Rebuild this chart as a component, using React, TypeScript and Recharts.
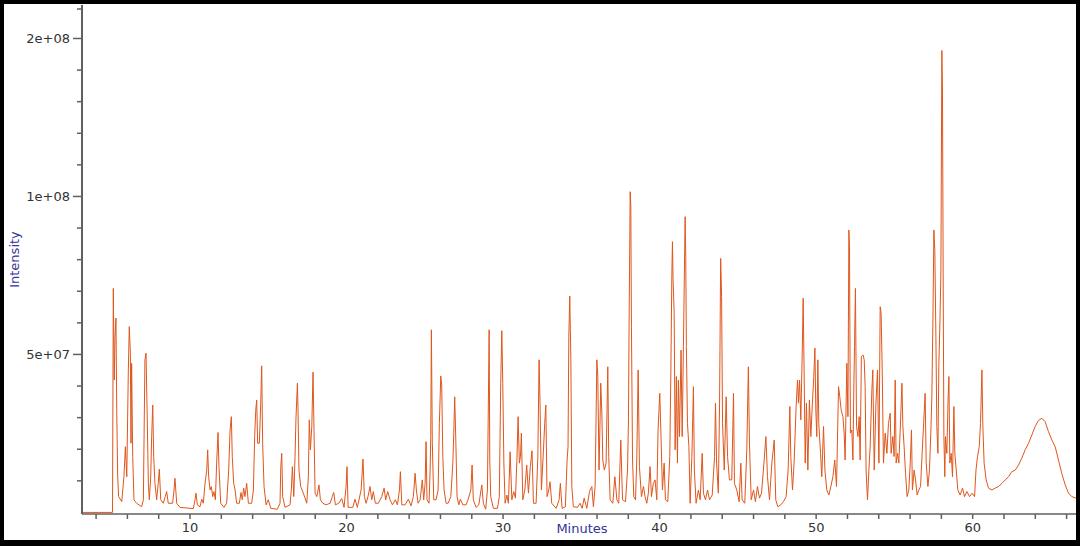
import { Label, Line, LineChart, XAxis, YAxis } from "recharts";

// retention time (min), intensity (x 1e6 counts)
const early: [number, number][] = [
  [3.1, 0], [5.05, 0], [5.1, 70.9], [5.16, 41.9], [5.21, 55.6], [5.27, 61.5], [5.32, 31.9],
  [5.38, 11.3], [5.44, 5.0], [5.64, 3.4], [5.78, 11.3], [5.87, 20.8], [5.96, 11.3], [6.06, 45.1],
  [6.12, 58.8], [6.19, 50.4], [6.23, 21.9], [6.27, 47.2], [6.34, 17.7], [6.42, 4.0], [6.59, 2.9],
  [6.91, 1.8], [7.02, 4.0], [7.12, 48.3], [7.19, 50.4], [7.25, 34.6], [7.34, 9.2], [7.4, 4.0],
  [7.49, 11.3], [7.55, 24.0], [7.62, 34.0], [7.68, 17.7], [7.76, 9.2], [7.87, 4.0], [7.97, 9.2],
  [8.04, 13.7], [8.13, 4.0], [8.29, 2.9], [8.42, 5.0], [8.51, 6.6], [8.61, 2.9], [8.89, 2.9],
  [8.98, 7.1], [9.04, 10.8], [9.15, 2.9], [9.36, 1.6],
];

const from10: [number, number][] = [
  [10.21, 1.2], [10.32, 4.0], [10.38, 6.1], [10.47, 2.4], [10.64, 1.8], [10.75, 4.2], [10.85, 2.9],
  [10.96, 9.2], [11.07, 13.4], [11.13, 19.8], [11.19, 11.3], [11.28, 7.1], [11.36, 8.2], [11.45, 5.0],
  [11.53, 6.6], [11.62, 4.0], [11.71, 16.6], [11.79, 25.3], [11.85, 14.5], [11.96, 2.9], [12.17, 1.6],
  [12.34, 2.9], [12.47, 13.4], [12.56, 26.1], [12.64, 30.3], [12.7, 17.7], [12.79, 9.2], [12.88, 7.1],
  [12.98, 2.9], [13.15, 2.9], [13.26, 6.3], [13.34, 4.0], [13.43, 7.7], [13.51, 5.0], [13.62, 9.2],
  [13.73, 2.9], [13.94, 2.9], [14.05, 7.1], [14.13, 24.0], [14.2, 32.4], [14.26, 35.6], [14.32, 21.9],
  [14.43, 21.9], [14.52, 34.6], [14.58, 46.4], [14.64, 21.9], [14.73, 8.2], [14.86, 2.4], [15.0, 4.0],
  [15.16, 1.3], [15.58, 1.0], [15.75, 2.9], [15.8, 14.5], [15.86, 18.7], [15.92, 5.0], [16.07, 1.6],
  [16.39, 2.4], [16.47, 7.1], [16.54, 14.5], [16.63, 5.0], [16.71, 17.7], [16.77, 29.8], [16.86, 40.9],
  [16.9, 32.4], [16.96, 13.4], [17.07, 8.2], [17.24, 6.1], [17.46, 2.9], [17.56, 11.3], [17.62, 29.3],
  [17.69, 19.8], [17.78, 27.2], [17.86, 44.4], [17.92, 26.1], [17.99, 6.1], [18.1, 5.0], [18.18, 7.1],
  [18.24, 8.7], [18.33, 4.0], [18.48, 2.9], [18.69, 2.4], [18.95, 2.9], [19.09, 5.0], [19.18, 6.3],
  [19.29, 2.4], [19.5, 2.9], [19.69, 4.4], [19.84, 1.6], [19.97, 8.2],
];

const from20: [number, number][] = [
  [20.03, 14.5], [20.1, 1.6], [20.4, 1.6], [20.54, 4.2], [20.69, 1.6], [20.93, 7.1], [21.05, 16.9],
  [21.14, 5.0], [21.25, 2.9], [21.37, 5.0], [21.5, 8.2], [21.61, 4.0], [21.71, 6.6], [21.84, 2.9],
  [22.03, 2.9], [22.25, 5.0], [22.4, 7.7], [22.5, 4.0], [22.63, 6.6], [22.78, 4.0], [22.93, 2.4],
  [23.12, 4.0], [23.25, 2.4], [23.38, 7.1], [23.44, 12.9], [23.53, 2.4], [23.74, 2.4], [23.95, 4.2],
  [24.12, 2.1], [24.27, 5.0], [24.38, 12.4], [24.46, 7.1], [24.57, 2.9], [24.7, 4.0], [24.84, 10.3],
  [24.93, 4.0], [25.02, 9.2], [25.08, 22.4], [25.14, 4.0], [25.27, 2.9], [25.34, 13.4], [25.38, 24.0],
  [25.42, 57.8], [25.48, 21.9], [25.57, 4.0], [25.72, 4.0], [25.85, 7.1], [25.93, 28.2], [26.02, 43.2],
  [26.08, 40.3], [26.15, 17.7], [26.23, 7.1], [26.36, 2.9], [26.49, 2.9], [26.66, 5.0], [26.79, 15.6],
  [26.85, 25.1], [26.91, 36.6], [26.98, 22.9], [27.06, 5.0], [27.17, 2.4], [27.27, 4.2], [27.43, 2.4],
  [27.64, 2.4], [27.76, 4.0], [27.94, 7.1], [28.02, 15.0], [28.1, 4.0], [28.27, 1.6], [28.45, 2.4],
  [28.64, 8.7], [28.74, 2.9], [28.89, 1.0], [29.0, 7.1], [29.06, 34.6], [29.11, 57.8], [29.15, 16.6],
  [29.21, 5.0], [29.38, 1.3], [29.64, 1.3], [29.76, 5.0], [29.85, 40.9], [29.92, 57.5], [29.98, 40.9],
];

const from30: [number, number][] = [
  [30.05, 15.6], [30.13, 2.9], [30.24, 5.5], [30.34, 2.9], [30.45, 19.2], [30.56, 4.0], [30.68, 6.6],
  [30.79, 4.5], [30.88, 16.1], [30.96, 30.3], [31.04, 15.6], [31.11, 17.7], [31.17, 25.1], [31.26, 4.0],
  [31.39, 7.1], [31.51, 15.0], [31.62, 6.1], [31.74, 14.5], [31.85, 19.5], [31.94, 2.9], [32.11, 2.9],
  [32.22, 17.7], [32.3, 48.3], [32.36, 34.6], [32.45, 7.1], [32.58, 19.8], [32.66, 28.2], [32.73, 34.0],
  [32.81, 5.0], [32.92, 7.1], [33.0, 9.7], [33.11, 2.9], [33.39, 1.3], [33.58, 4.0], [33.66, 9.2],
  [33.77, 1.3], [33.98, 1.8], [34.09, 16.6], [34.15, 20.8], [34.2, 55.6], [34.26, 68.5], [34.33, 48.3],
  [34.39, 8.2], [34.49, 1.8], [34.75, 1.6], [34.92, 2.9], [35.05, 1.3], [35.18, 4.5], [35.35, 1.3],
  [35.52, 6.6], [35.67, 8.2], [35.77, 1.8], [35.88, 8.2], [35.94, 29.3], [35.99, 48.3], [36.05, 43.0],
  [36.13, 13.4], [36.2, 30.3], [36.24, 40.9], [36.31, 31.4], [36.37, 16.6], [36.47, 13.4], [36.58, 15.6],
  [36.69, 46.1], [36.75, 17.7], [36.84, 4.0], [37.01, 2.9], [37.14, 11.3], [37.27, 4.0], [37.39, 2.9],
  [37.52, 22.9], [37.63, 4.0], [37.82, 3.4], [37.95, 13.4], [38.01, 29.3], [38.05, 59.9], [38.12, 101.5],
  [38.16, 96.8], [38.2, 58.8], [38.27, 16.6], [38.35, 5.0], [38.46, 4.0], [38.54, 16.6], [38.63, 45.1],
  [38.71, 14.5], [38.84, 5.0], [38.97, 8.2], [39.07, 5.0], [39.18, 2.9], [39.28, 6.1], [39.39, 14.5],
  [39.48, 5.0], [39.6, 9.2], [39.71, 10.3], [39.82, 4.0], [39.9, 26.1],
];

const from40: [number, number][] = [
  [40.01, 37.7], [40.09, 24.0], [40.18, 7.1], [40.29, 15.6], [40.37, 4.0], [40.52, 3.4], [40.65, 17.7],
  [40.72, 45.1], [40.78, 74.6], [40.82, 85.7], [40.86, 73.6], [40.93, 63.0], [40.99, 19.8], [41.07, 43.0],
  [41.14, 15.6], [41.2, 41.9], [41.27, 24.0], [41.37, 51.4], [41.44, 24.0], [41.52, 52.5], [41.63, 93.6],
  [41.67, 81.0], [41.71, 52.5], [41.78, 28.2], [41.87, 20.8], [41.95, 2.9], [42.06, 17.7], [42.16, 39.8],
  [42.22, 13.4], [42.33, 2.9], [42.48, 7.1], [42.59, 4.0], [42.72, 18.7], [42.8, 6.1], [42.93, 4.0],
  [43.06, 7.1], [43.19, 4.0], [43.36, 5.5], [43.51, 17.7], [43.57, 34.6], [43.64, 15.6], [43.75, 6.1],
  [43.83, 34.6], [43.9, 80.4], [43.96, 68.3], [44.02, 28.2], [44.13, 13.4], [44.25, 36.6], [44.34, 17.7],
  [44.46, 10.3], [44.61, 10.3], [44.72, 37.7], [44.78, 9.2], [44.93, 7.1], [45.08, 3.4], [45.19, 15.6],
  [45.27, 4.0], [45.44, 2.9], [45.57, 19.8], [45.67, 46.1], [45.74, 21.9], [45.85, 4.0], [46.0, 7.1],
  [46.12, 3.4], [46.25, 8.2], [46.38, 4.5], [46.51, 6.1], [46.63, 13.4], [46.79, 24.0], [46.89, 11.3],
  [47.02, 4.0], [47.17, 15.6], [47.32, 22.9], [47.42, 4.0], [47.55, 1.8], [47.74, 2.4], [47.91, 3.4],
  [48.08, 5.0], [48.21, 13.4], [48.32, 33.5], [48.38, 17.7], [48.49, 7.1], [48.59, 15.6], [48.72, 33.5],
  [48.81, 41.9], [48.87, 34.6], [48.94, 41.9], [49.02, 29.3], [49.11, 50.4], [49.17, 67.8], [49.23, 45.1],
  [49.3, 15.6], [49.38, 34.6], [49.47, 13.4], [49.57, 35.6], [49.66, 24.0], [49.76, 34.6], [49.85, 43.0],
  [49.92, 52.0], [49.98, 32.4],
];

const from50: [number, number][] = [
  [50.04, 24.0], [50.11, 48.3], [50.17, 28.2], [50.28, 18.7], [50.36, 11.3], [50.47, 27.2], [50.56, 13.4],
  [50.68, 7.1], [50.81, 5.5], [50.94, 8.2], [51.07, 11.3], [51.19, 16.6], [51.3, 8.2], [51.43, 39.8],
  [51.51, 36.6], [51.6, 32.4], [51.71, 30.3], [51.79, 25.1], [51.85, 16.6], [51.96, 47.2], [52.03, 30.3],
  [52.09, 89.4], [52.13, 84.1], [52.19, 25.1], [52.28, 26.1], [52.35, 16.6], [52.41, 40.9], [52.45, 52.5],
  [52.51, 70.9], [52.58, 27.2], [52.67, 24.0], [52.75, 30.3], [52.81, 16.6], [52.89, 49.3], [53.0, 49.8],
  [53.07, 48.3], [53.13, 39.8], [53.19, 13.4], [53.28, 4.0], [53.37, 13.4], [53.45, 20.8], [53.56, 38.8],
  [53.62, 45.1], [53.71, 13.4], [53.82, 34.6], [53.92, 45.1], [54.01, 15.6], [54.09, 65.1], [54.15, 63.0],
  [54.22, 45.1], [54.3, 15.6], [54.41, 25.1], [54.52, 18.7], [54.62, 28.2], [54.73, 31.4], [54.79, 18.7],
  [54.9, 24.0], [54.98, 17.7], [55.05, 41.9], [55.11, 15.6], [55.2, 18.7], [55.28, 15.6], [55.37, 26.1],
  [55.48, 40.9], [55.54, 27.2], [55.62, 20.8], [55.71, 12.4], [55.81, 5.0], [55.92, 7.1], [56.01, 15.6],
  [56.09, 26.1], [56.15, 7.1], [56.26, 13.4], [56.35, 10.3], [56.45, 5.5], [56.56, 7.1], [56.67, 8.2],
  [56.77, 18.7], [56.88, 29.3], [56.96, 37.7], [57.03, 15.6], [57.14, 8.2], [57.24, 13.4], [57.33, 26.1],
  [57.39, 36.6], [57.46, 60.9], [57.52, 89.4], [57.58, 83.1], [57.65, 55.6], [57.71, 27.2], [57.78, 18.7],
  [57.84, 47.2], [57.91, 60.9], [57.97, 76.7], [58.03, 146.2], [58.07, 133.7], [58.12, 67.2], [58.16, 24.0],
  [58.22, 11.3], [58.26, 24.0], [58.35, 18.7], [58.42, 34.6], [58.48, 43.0], [58.54, 15.6], [58.63, 18.7],
  [58.71, 11.3], [58.8, 33.5], [58.86, 18.7], [58.95, 13.4], [59.05, 7.1], [59.2, 5.5], [59.35, 7.7],
  [59.48, 5.0], [59.63, 6.6], [59.8, 5.0], [59.97, 6.1],
];

const tail: [number, number][] = [
  [60.12, 5.0], [60.21, 13.4], [60.31, 17.7], [60.42, 20.8], [60.5, 28.2], [60.59, 45.1], [60.65, 27.2],
  [60.73, 15.6], [60.86, 10.3], [61.01, 7.7], [61.23, 7.1], [61.44, 7.7], [61.65, 8.2], [61.87, 9.2],
  [62.08, 10.3], [62.29, 11.3], [62.5, 12.9], [62.72, 13.4], [62.93, 15.0], [63.14, 17.2], [63.35, 19.8],
  [63.57, 21.9], [63.78, 24.5], [63.99, 27.2], [64.2, 29.1], [64.42, 29.8], [64.63, 28.7], [64.84, 25.6],
  [65.06, 22.9], [65.27, 20.8], [65.48, 16.6], [65.69, 12.4], [65.91, 8.7], [66.12, 6.1], [66.33, 5.0],
  [66.6, 4.5],
];

const xTicks = [4, 6, 8, 10, 12, 14, 16, 18, 20, 22, 24, 26, 28, 30, 32, 34, 36, 38, 40, 42, 44, 46, 48, 50, 52, 54, 56, 58, 60, 62, 64, 66];
const yTicks = [10, 20, 30, 40, 50, 60, 70, 80, 90, 100, 110, 120, 130, 140, 150, 160];
const yLabelled = [50, 100, 150];

const trace = [...early, ...from10, ...from20, ...from30, ...from40, ...from50, ...tail].map(
  ([t, v]) => ({ t, v }),
);

const AXIS_X = 82;
const FONT = "DejaVu Sans, Verdana, sans-serif";
const TEXT = "#333";
const TITLE = "#34349a";
const AXIS = "#606060";

// 1-significant-digit exponent format, like the instrument software
function sci(v: number) {
  return (v * 1e6).toExponential(0).replace(/e\+(\d)$/, "e+0$1");
}

function YTick(props: any) {
  const { y, payload } = props;
  const major = yLabelled.includes(payload.value);
  const len = major ? 9 : 5;
  return (
    <g>
      <line x1={AXIS_X - len} x2={AXIS_X} y1={y} y2={y} stroke={AXIS} strokeWidth={1.5} />
      {major && (
        <text
          x={AXIS_X - 12}
          y={y}
          textAnchor="end"
          dominantBaseline="central"
          fontFamily={FONT}
          fontSize={13}
          fill={TEXT}
        >
          {sci(payload.value)}
        </text>
      )}
    </g>
  );
}

export default function App() {
  return (
    <div
      style={{
        position: "fixed",
        left: 0,
        top: 0,
        width: 1080,
        height: 546,
        background: "#000",
      }}
    >
      <div
        style={{
          position: "absolute",
          left: 4,
          top: 4,
          width: 1072,
          height: 536,
          background: "#fff",
        }}
      />
      <div style={{ position: "absolute", left: 0, top: 0 }}>
        <LineChart
          width={1080}
          height={546}
          data={trace}
          margin={{ top: 5, right: 4, bottom: 0, left: 0 }}
        >
          <XAxis
            dataKey="t"
            type="number"
            domain={[3.1, 66.6]}
            ticks={xTicks}
            allowDataOverflow
            height={32}
            tickSize={5}
            tickMargin={4}
            stroke={AXIS}
            strokeWidth={1.5}
            tick={{ fontFamily: FONT, fontSize: 13, fill: TEXT }}
            tickFormatter={(v) => (v % 10 === 0 ? String(v) : "")}
          >
            <Label
              value="Minutes"
              position="center"
              dy={-2}
              dx={3}
              style={{ fontFamily: FONT, fontSize: 13, fill: TITLE }}
            />
          </XAxis>
          <YAxis
            type="number"
            domain={[-0.5, 160.6]}
            ticks={yTicks}
            allowDataOverflow
            width={AXIS_X}
            stroke={AXIS}
            strokeWidth={2}
            tickLine={false}
            tick={(p: any) => <YTick {...p} />}
          >
            <Label
              value="Intensity"
              angle={-90}
              position="center"
              dx={-27}
              style={{ fontFamily: FONT, fontSize: 13, fill: TITLE }}
            />
          </YAxis>
          <Line
            type="linear"
            dataKey="v"
            stroke="#e0561c"
            strokeWidth={1}
            dot={false}
            activeDot={false}
            isAnimationActive={false}
          />
        </LineChart>
      </div>
    </div>
  );
}
